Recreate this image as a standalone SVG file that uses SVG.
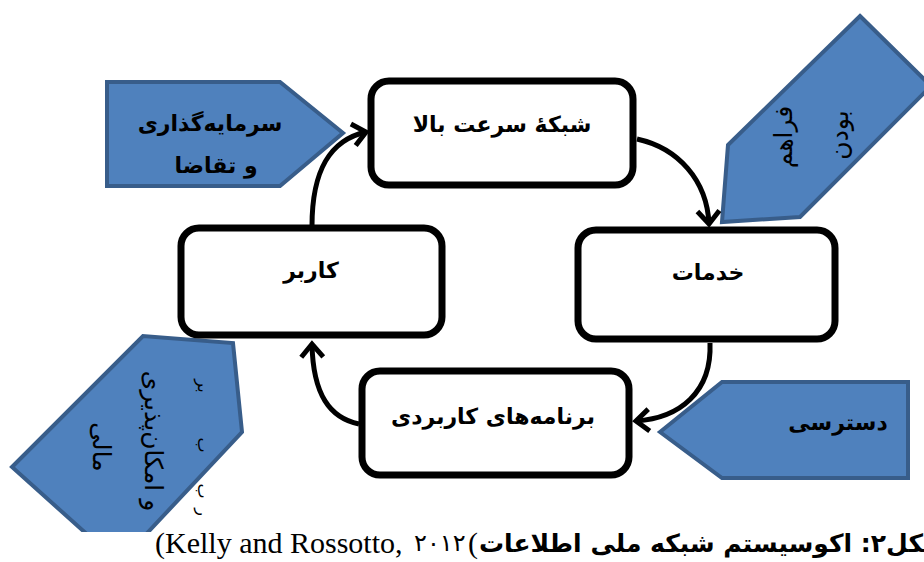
<svg xmlns="http://www.w3.org/2000/svg" width="924" height="562" viewBox="0 0 924 562">
<style>
.node rect{fill:#fff;stroke:#000;stroke-width:7}
.lbl{font-family:"DejaVu Sans",sans-serif;font-weight:bold;font-size:22px;fill:#000;text-anchor:middle}
.call{fill:#4F81BD;stroke:#385D8A;stroke-width:4;stroke-linejoin:miter}
.clbl{font-family:"DejaVu Sans",sans-serif;font-weight:bold;font-size:22px;fill:#000;text-anchor:middle}
.rlbl{font-family:"DejaVu Sans",sans-serif;font-size:25px;fill:#000;text-anchor:middle;dominant-baseline:central}
.frag{font-family:"DejaVu Sans",sans-serif;font-size:16px;fill:#000;text-anchor:middle;dominant-baseline:central}
.conn path{fill:none;stroke:#000;stroke-width:5;marker-end:url(#ah)}
</style>
<defs>
<marker id="ah" markerUnits="userSpaceOnUse" markerWidth="40" markerHeight="40" viewBox="-20 -20 40 40" refX="0" refY="0" orient="auto" overflow="visible">
<path d="M-13,-11 L0,0 L-13,11" fill="none" stroke="#000" stroke-width="5"/>
</marker>
</defs>
<rect x="0" y="0" width="924" height="562" fill="#fff"/>

<g id="callout-investment">
<polygon class="call" points="107,82 280,82 343,133 280,186 107,186"/>
<text class="clbl" x="210" y="131">سرمایه‌گذاری</text>
<text class="clbl" x="216" y="173">و تقاضا</text>
</g>

<g id="callout-availability">
<polygon class="call" points="860,16 931,86 800,217 722,222 728,145"/>
<text class="rlbl" transform="translate(783,137) rotate(-90)">فراهم</text>
<text class="rlbl" transform="translate(839,135) rotate(-90)">بودن</text>
</g>

<g id="callout-finance">
<polygon class="call" points="12,467 143,336 233,343 242,432 119,563"/>
<text class="rlbl" transform="translate(153,441) rotate(90)">و امکان‌پذیری</text>
<text class="rlbl" transform="translate(101,447) rotate(90)">مالی</text>
<text class="frag" transform="translate(203,386) rotate(90)">بر</text>
<text class="frag" transform="translate(203,445) rotate(90)">ب</text>
<text class="frag" transform="translate(203,491) rotate(90)">ب</text>
<text class="frag" transform="translate(203,512) rotate(90)">ر</text>
</g>

<g id="callout-access">
<polygon class="call" points="660,432 722,382 908,382 908,478 722,478"/>
<text class="clbl" x="838" y="430">دسترسی</text>
</g>

<g class="conn" id="connectors">
<path d="M312,226 C312,170 330,140 366,132"/>
<path d="M637,139 C678,148 707,180 709,224"/>
<path d="M710,343 C712,392 680,418 636,421"/>
<path d="M359,424 C330,418 313,395 312,344"/>
</g>

<g id="node-network" class="node">
<rect x="371" y="81" width="262" height="104" rx="18"/>
<text class="lbl" x="502" y="132">شبکهٔ سرعت بالا</text>
</g>
<g id="node-services" class="node">
<rect x="578" y="230" width="257" height="109" rx="18"/>
<text class="lbl" x="708" y="280">خدمات</text>
</g>
<g id="node-apps" class="node">
<rect x="362" y="371" width="267" height="104" rx="18"/>
<text class="lbl" x="493" y="424">برنامه‌های کاربردی</text>
</g>
<g id="node-user" class="node">
<rect x="181" y="228" width="261" height="107" rx="18"/>
<text class="lbl" x="311" y="278">کاربر</text>
</g>

<g id="caption">
<rect x="0" y="532" width="924" height="30" fill="#fff"/>
<text x="155" y="553" font-family="Liberation Serif" font-size="30">(Kelly and Rossotto, </text>
<text x="414" y="551" font-family="DejaVu Sans" font-size="24">۲۰۱۲</text>
<text x="468" y="553" font-family="Liberation Serif" font-size="30">(</text>
<text x="479" y="552" font-family="DejaVu Sans" font-weight="bold" font-size="25" direction="rtl" text-anchor="end">شکل۲: اکوسیستم شبکه ملی اطلاعات</text>
</g>
</svg>
